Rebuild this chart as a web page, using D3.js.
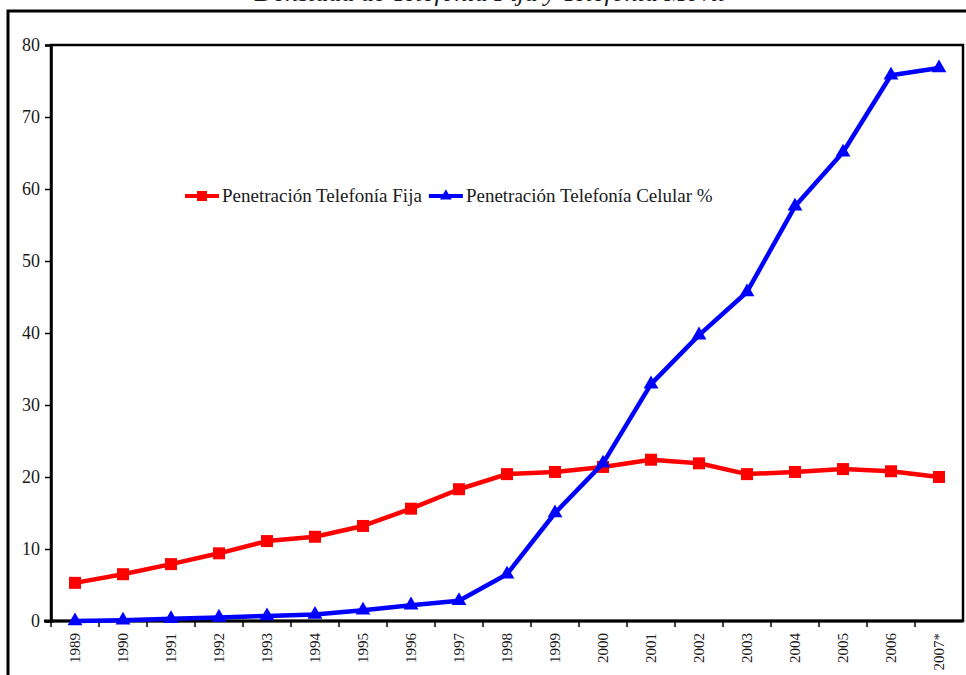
<!DOCTYPE html>
<html>
<head>
<meta charset="utf-8">
<script src="https://cdn.jsdelivr.net/npm/d3@7"></script>
<style>
  html, body { margin: 0; padding: 0; background: #fff; }
  svg { display: block; }
  svg text { font-family: "Liberation Serif", "Times New Roman", serif; fill: #1a1a1a; }
</style>
</head>
<body>
<svg id="chart" width="966" height="675"></svg>
<script>
// Years (2007 is a provisional estimate)
const years = ["1989","1990","1991","1992","1993","1994","1995","1996","1997","1998",
               "1999","2000","2001","2002","2003","2004","2005","2006","2007*"];
// Fixed-line penetration (lines per 100 inhabitants)
const fija = [5.3, 6.5, 7.9, 9.4, 11.1, 11.7, 13.2, 15.6, 18.3, 20.4,
              20.7, 21.4, 22.4, 21.9, 20.4, 20.7, 21.1, 20.8, 20.0];
// Mobile penetration (%)
const celular = [0.0, 0.1, 0.3, 0.5, 0.7, 0.9, 1.5, 2.2, 2.8, 6.5,
                 15.0, 21.9, 32.9, 39.7, 45.7, 57.6, 65.1, 75.8, 76.8];
const yTicks = [0, 10, 20, 30, 40, 50, 60, 70, 80];
const seriesNames = ["Penetración Telefonía Fija", "Penetración Telefonía Celular %"];
const titleText = "Densidad de Telefonía Fija y Telefonía Móvil";

const serif = "Liberation Serif, Times New Roman, serif";
const svg = d3.select("#chart");
const plot = { left: 51, right: 963, top: 45, bottom: 621 };

// Title sits mostly above the page; only its lower part shows
svg.append("text")
  .attr("x", 490).attr("y", 1)
  .attr("text-anchor", "middle")
  .attr("font-size", 26)
  .attr("font-style", "italic")
  .text(titleText);

// Outer frame around the chart area
svg.append("path")
  .attr("d", "M8,680 L8,11 L975,11")
  .attr("fill", "none").attr("stroke", "#000").attr("stroke-width", 3);

const x = d3.scaleBand().domain(years).range([plot.left, plot.right]);
const y = d3.scaleLinear().domain([0, 80]).range([plot.bottom, plot.top]);

// Plot area box
svg.append("rect")
  .attr("x", plot.left).attr("y", plot.top)
  .attr("width", plot.right - plot.left).attr("height", plot.bottom - plot.top)
  .attr("fill", "none").attr("stroke", "#000").attr("stroke-width", 2.5);

// Y axis
const yAxis = svg.append("g")
  .attr("transform", `translate(${plot.left},0)`)
  .call(d3.axisLeft(y).tickValues(yTicks).tickSize(6).tickPadding(5).tickFormat(d3.format("d")))
  .attr("font-family", serif);
yAxis.select(".domain").attr("stroke-width", 2.5);
yAxis.selectAll(".tick line").attr("stroke-width", 1.5);
yAxis.selectAll(".tick text").attr("font-size", 18).attr("fill", "#222");

// X axis: ticks fall on category boundaries
const xAxis = svg.append("g")
  .attr("transform", `translate(0,${plot.bottom})`);
xAxis.append("line")
  .attr("x1", plot.left - 7).attr("x2", plot.right)
  .attr("stroke", "#000").attr("stroke-width", 3);
const bounds = years.map(d => x(d));
xAxis.selectAll("line.tk").data(bounds).join("line")
  .attr("class", "tk")
  .attr("x1", d => d).attr("x2", d => d)
  .attr("y1", 0).attr("y2", 6)
  .attr("stroke", "#000").attr("stroke-width", 1.5);
xAxis.selectAll("text").data(years).join("text")
  .attr("transform", d => `translate(${x(d) + x.bandwidth() / 2 + 5},${12}) rotate(-90)`)
  .attr("text-anchor", "end")
  .attr("font-size", 15)
  .attr("fill", "#222")
  .text(d => d);

const cx = d => x(d) + x.bandwidth() / 2;
const line = d3.line().x((d, i) => cx(years[i])).y(d => y(d));

// Fixed-line series
svg.append("path").datum(fija)
  .attr("d", line).attr("fill", "none")
  .attr("stroke", "#ff0000").attr("stroke-width", 4.5).attr("stroke-linejoin", "round");
svg.selectAll("rect.fija").data(fija).join("rect")
  .attr("class", "fija")
  .attr("x", (d, i) => cx(years[i]) - 6).attr("y", d => y(d) - 6)
  .attr("width", 12).attr("height", 12)
  .attr("fill", "#ff0000");

// Mobile series
svg.append("path").datum(celular)
  .attr("d", line).attr("fill", "none")
  .attr("stroke", "#0000ff").attr("stroke-width", 4.5).attr("stroke-linejoin", "round");
const tri = d3.symbol().type(d3.symbolTriangle).size(95);
svg.selectAll("path.cel").data(celular).join("path")
  .attr("class", "cel")
  .attr("transform", (d, i) => `translate(${cx(years[i])},${y(d)})`)
  .attr("d", tri)
  .attr("fill", "#0000ff");

// Legend: each entry placed right after the previous one
const legend = svg.append("g").attr("transform", "translate(185,196)");
const e1 = legend.append("g");
e1.append("line").attr("x1", 0).attr("x2", 34).attr("stroke", "#ff0000").attr("stroke-width", 4);
e1.append("rect").attr("x", 12).attr("y", -5).attr("width", 10).attr("height", 10).attr("fill", "#ff0000");
const t1 = e1.append("text").attr("x", 37).attr("y", 6).attr("font-size", 19).text(seriesNames[0]);
const next = 37 + t1.node().getComputedTextLength() + 7;
const e2 = legend.append("g").attr("transform", `translate(${next},0)`);
e2.append("line").attr("x1", 0).attr("x2", 34).attr("stroke", "#0000ff").attr("stroke-width", 4);
e2.append("path").attr("transform", "translate(17,0)")
  .attr("d", d3.symbol().type(d3.symbolTriangle).size(60)).attr("fill", "#0000ff");
e2.append("text").attr("x", 37).attr("y", 6).attr("font-size", 19).text(seriesNames[1]);
</script>
</body>
</html>
